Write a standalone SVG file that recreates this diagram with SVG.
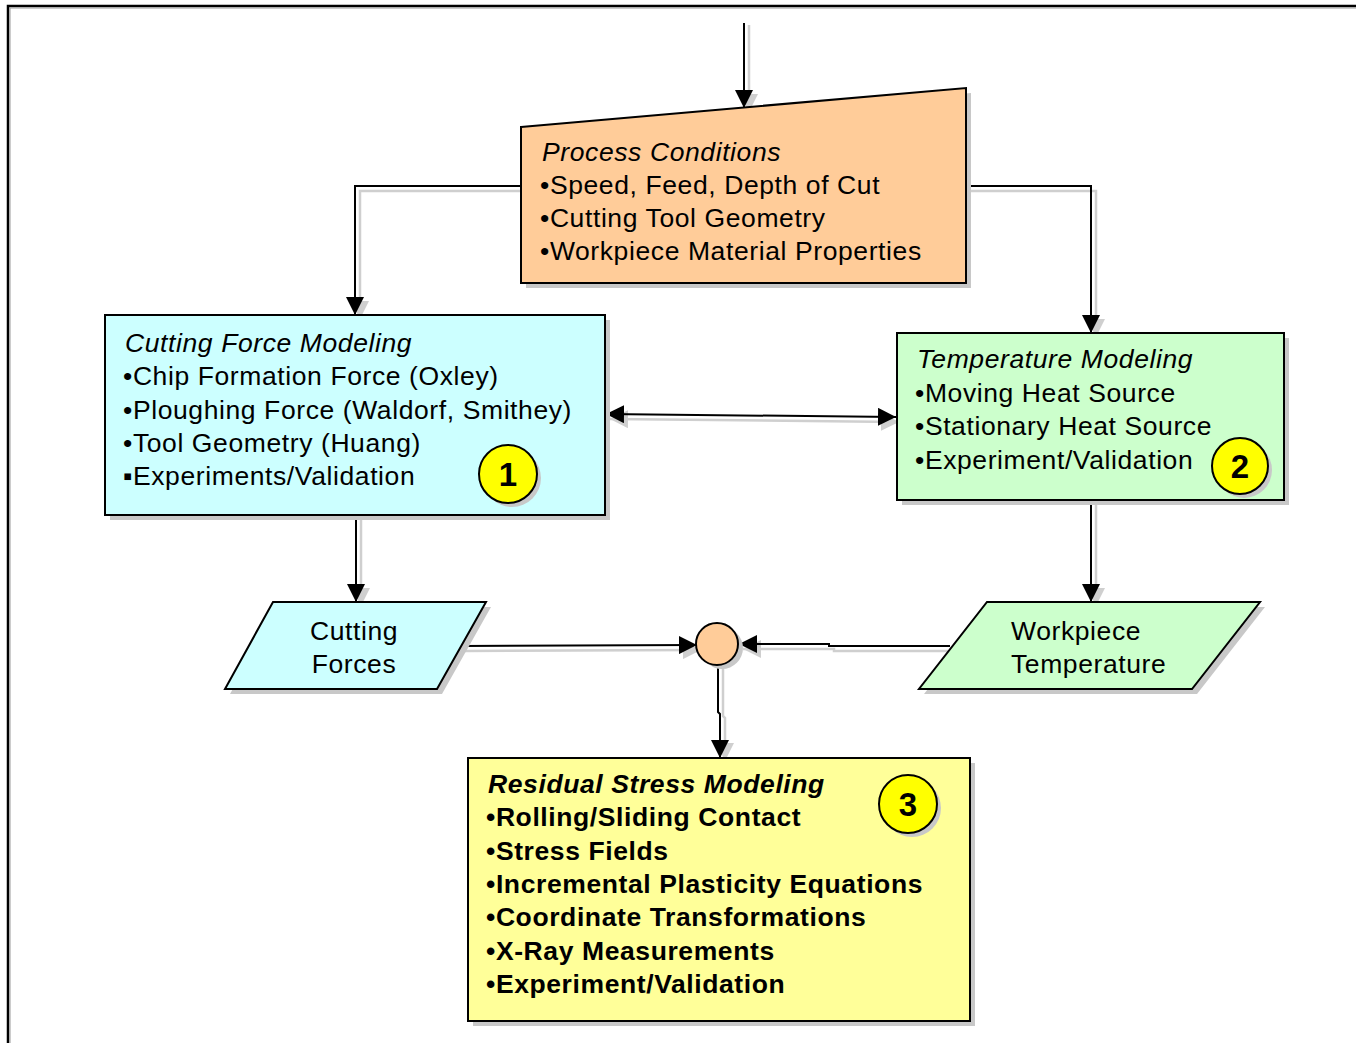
<svg xmlns="http://www.w3.org/2000/svg" width="1356" height="1043" viewBox="0 0 1356 1043">
<style>
text{font-family:"Liberation Sans",Arial,sans-serif;font-size:26.5px;letter-spacing:0.6px;fill:#000}
.it{font-style:italic}
.b{font-weight:bold}
.num{font-weight:bold;font-size:33px;letter-spacing:0;text-anchor:middle}
.node{stroke:#000;stroke-width:2}
.sh{fill:#c8c8c8;stroke:none}
.ln{fill:none;stroke:#000;stroke-width:2}
.lsh{fill:none;stroke:#cfcfcf;stroke-width:2.5}
</style>
<defs>
<marker id="ah" viewBox="0 0 18 18" refX="18" refY="9" markerWidth="18" markerHeight="18" markerUnits="userSpaceOnUse" orient="auto-start-reverse">
<path d="M0,0 L18,9 L0,18 Z" fill="#000"/>
</marker>
<marker id="ahs" viewBox="0 0 18 18" refX="18" refY="9" markerWidth="18" markerHeight="18" markerUnits="userSpaceOnUse" orient="auto-start-reverse">
<path d="M0,0 L18,9 L0,18 Z" fill="#cfcfcf"/>
</marker>
</defs>
<rect width="1356" height="1043" fill="#fff"/>
<path d="M8,1043 V6 H1356" fill="none" stroke="#000" stroke-width="2.5"/>
<path d="M10,1043 V8 H1356" fill="none" stroke="#999" stroke-width="1"/>

<g id="connectors">
<g class="shadows">
<path class="lsh" d="M749,25 V112" marker-end="url(#ahs)"/>
<path class="lsh" d="M521,191 H360 V319" marker-end="url(#ahs)"/>
<path class="lsh" d="M966,191 H1096 V337" marker-end="url(#ahs)"/>
<path class="lsh" d="M610,419 L899,422" marker-start="url(#ahs)" marker-end="url(#ahs)"/>
<path class="lsh" d="M361,517 V606" marker-end="url(#ahs)"/>
<path class="lsh" d="M1096,502 V606" marker-end="url(#ahs)"/>
<path class="lsh" d="M465,651 L701,650" marker-end="url(#ahs)"/>
<path class="lsh" d="M948,651 H834 V649 H743" marker-end="url(#ahs)"/>
<path class="lsh" d="M723,668 V716 L725,718 V761" marker-end="url(#ahs)"/>
</g>
<path class="ln" d="M744,23 V108" marker-end="url(#ah)"/>
<path class="ln" d="M521,186 H355 V315" marker-end="url(#ah)"/>
<path class="ln" d="M966,186 H1091 V333" marker-end="url(#ah)"/>
<path class="ln" d="M606,414 L896,417" marker-start="url(#ah)" marker-end="url(#ah)"/>
<path class="ln" d="M356,515 V602" marker-end="url(#ah)"/>
<path class="ln" d="M1091,500 V602" marker-end="url(#ah)"/>
<path class="ln" d="M461,646 L697,645" marker-end="url(#ah)"/>
<path class="ln" d="M950,646 H829 V644 H739" marker-end="url(#ah)"/>
<path class="ln" d="M718,665 V712 L720,714 V758" marker-end="url(#ah)"/>
</g>

<g id="process-conditions">
<polygon class="sh" points="526,132 971,93 971,288 526,288"/>
<polygon class="node" fill="#ffcc99" points="521,127 966,88 966,283 521,283"/>
<text x="542" y="161" class="it">Process Conditions</text>
<text x="540" y="194">•Speed, Feed, Depth of Cut</text>
<text x="540" y="227">•Cutting Tool Geometry</text>
<text x="540" y="260">•Workpiece Material Properties</text>
</g>

<g id="cutting-force-modeling">
<rect class="sh" x="110" y="320" width="500" height="200"/>
<rect class="node" fill="#ccffff" x="105" y="315" width="500" height="200"/>
<text x="125" y="352" class="it">Cutting Force Modeling</text>
<text x="123" y="385">•Chip Formation Force (Oxley)</text>
<text x="123" y="419">•Ploughing Force (Waldorf, Smithey)</text>
<text x="123" y="452">•Tool Geometry (Huang)</text>
<text x="123" y="485">▪Experiments/Validation</text>
<circle class="sh" cx="512" cy="478" r="29"/>
<circle class="node" fill="#ffff00" cx="508" cy="474" r="29"/>
<text x="508" y="486" class="num">1</text>
</g>

<g id="temperature-modeling">
<rect class="sh" x="902" y="338" width="387" height="167"/>
<rect class="node" fill="#ccffcc" x="897" y="333" width="387" height="167"/>
<text x="917" y="368" class="it">Temperature Modeling</text>
<text x="915" y="402">•Moving Heat Source</text>
<text x="915" y="435">•Stationary Heat Source</text>
<text x="915" y="469">•Experiment/Validation</text>
<circle class="sh" cx="1244" cy="470" r="28"/>
<circle class="node" fill="#ffff00" cx="1240" cy="466" r="28"/>
<text x="1240" y="478" class="num">2</text>
</g>

<g id="cutting-forces">
<polygon class="sh" points="278,607 491,607 442,694 230,694"/>
<polygon class="node" fill="#ccffff" points="273,602 486,602 437,689 225,689"/>
<text x="354" y="640" text-anchor="middle">Cutting</text>
<text x="354" y="673" text-anchor="middle">Forces</text>
</g>

<g id="workpiece-temperature">
<polygon class="sh" points="992,607 1265,607 1197,694 924,694"/>
<polygon class="node" fill="#ccffcc" points="987,602 1260,602 1192,689 919,689"/>
<text x="1011" y="640">Workpiece</text>
<text x="1011" y="673">Temperature</text>
</g>

<g id="junction">
<circle class="sh" cx="722" cy="648" r="21"/>
<circle class="node" fill="#ffcc99" cx="717" cy="644" r="21"/>
</g>

<g id="residual-stress-modeling">
<rect class="sh" x="473" y="763" width="502" height="263"/>
<rect class="node" fill="#ffff99" x="468" y="758" width="502" height="263"/>
<text x="488" y="793" class="it b">Residual Stress Modeling</text>
<text x="486" y="826" class="b">•Rolling/Sliding Contact</text>
<text x="486" y="860" class="b">•Stress Fields</text>
<text x="486" y="893" class="b">•Incremental Plasticity Equations</text>
<text x="486" y="926" class="b">•Coordinate Transformations</text>
<text x="486" y="960" class="b">•X-Ray Measurements</text>
<text x="486" y="993" class="b">•Experiment/Validation</text>
<circle class="sh" cx="912" cy="808" r="29"/>
<circle class="node" fill="#ffff00" cx="908" cy="804" r="29"/>
<text x="908" y="816" class="num">3</text>
</g>
</svg>
